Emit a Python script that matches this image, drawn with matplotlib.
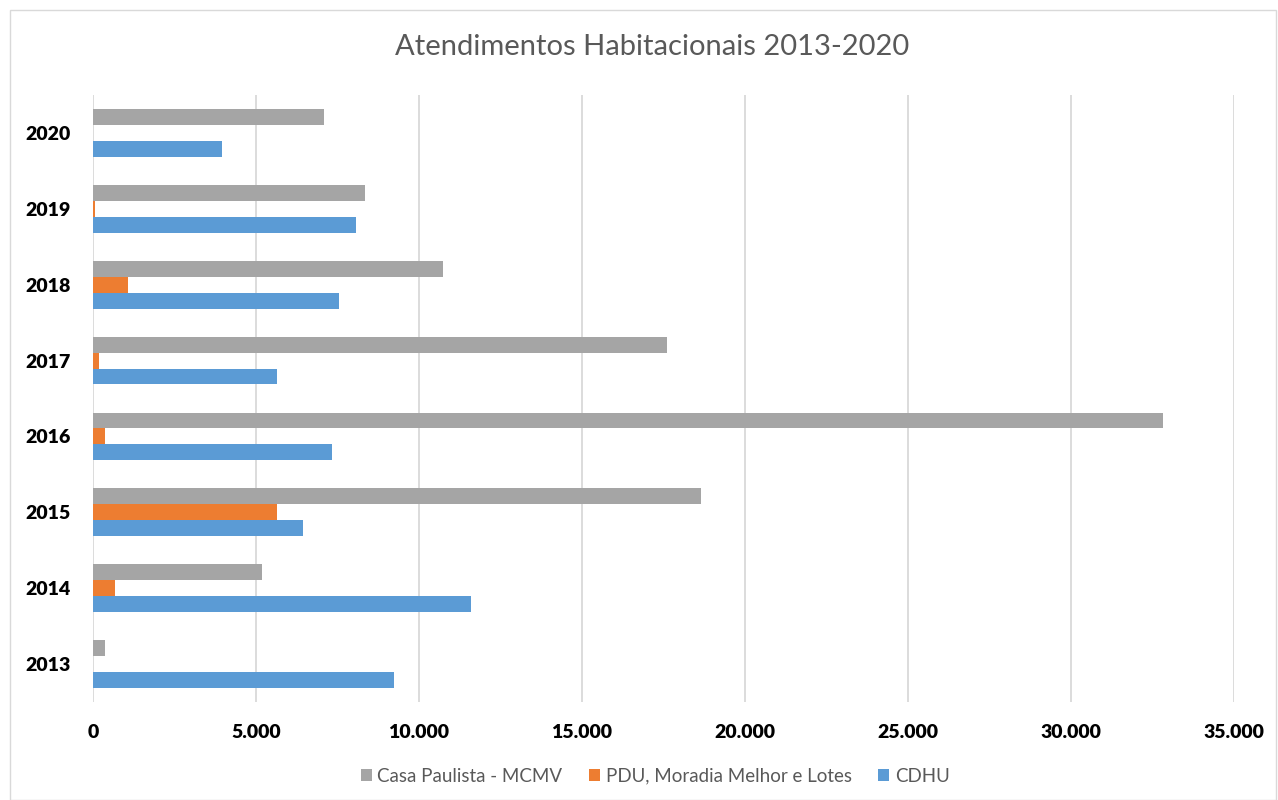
import matplotlib
matplotlib.use("Agg")
import matplotlib.pyplot as plt
import numpy as np
from matplotlib.ticker import FuncFormatter, MultipleLocator
from matplotlib.patches import Rectangle

plt.rcParams['font.family'] = ['Lato', 'DejaVu Sans']

years = ["2013", "2014", "2015", "2016", "2017", "2018", "2019", "2020"]
cdhu = [9230, 11600, 6450, 7340, 5650, 7540, 8080, 3960]
pdu = [0, 660, 5650, 380, 180, 1080, 70, 0]
casa = [380, 5190, 18640, 32830, 17600, 10750, 8340, 7080]

series_names = ["Casa Paulista - MCMV", "PDU, Moradia Melhor e Lotes", "CDHU"]
colors = {"Casa Paulista - MCMV": "#A5A5A5",
          "PDU, Moradia Melhor e Lotes": "#ED7D31",
          "CDHU": "#5B9BD5"}

fig = plt.figure(figsize=(12.78, 8.0), dpi=100)
ax = fig.add_axes([93/1278, 1-702/800, (1234-93)/1278, (702-95)/800])

y = np.arange(len(years))
h = 0.21
ax.barh(y - h, cdhu, height=h, color=colors["CDHU"], label="CDHU", zorder=3)
ax.barh(y, pdu, height=h, color=colors["PDU, Moradia Melhor e Lotes"],
        label="PDU, Moradia Melhor e Lotes", zorder=3)
ax.barh(y + h, casa, height=h, color=colors["Casa Paulista - MCMV"],
        label="Casa Paulista - MCMV", zorder=3)

ax.set_xlim(0, 35000)
ax.set_ylim(-0.5, len(years) - 0.5)
ax.xaxis.set_major_locator(MultipleLocator(5000))
ax.xaxis.set_major_formatter(FuncFormatter(lambda v, p: f"{int(v):,}".replace(",", ".")))
ax.set_yticks(y)
ax.set_yticklabels(years)
ax.grid(axis='x', color='#D9D9D9', linewidth=1.3, zorder=0)
for s in ax.spines.values():
    s.set_visible(False)
ax.tick_params(axis='both', length=0, labelsize=14, labelcolor='black')
ax.tick_params(axis='y', pad=16)
ax.tick_params(axis='x', pad=16)
for lab in ax.get_xticklabels() + ax.get_yticklabels():
    lab.set_fontweight('heavy')

fig.text(652/1278, 1-47/800, "Atendimentos Habitacionais 2013-2020",
         ha='center', va='center', fontsize=21, color='#595959')

handles, labels = ax.get_legend_handles_labels()
order = [labels.index(n) for n in series_names]
leg = fig.legend([handles[i] for i in order], [labels[i] for i in order],
                 loc='center', bbox_to_anchor=(655/1278, 1-776/800), ncol=3,
                 frameon=False, fontsize=13.5, handlelength=0.6, handleheight=0.6,
                 handletextpad=0.3, columnspacing=1.4)
for t in leg.get_texts():
    t.set_color('#595959')

fig.patches.append(Rectangle((10/1278, 0.0), (1276-10)/1278, 1-10/800,
                             transform=fig.transFigure, fill=False,
                             edgecolor='#D9D9D9', linewidth=1.0))

fig.savefig("out.png", dpi=100, facecolor='white')
